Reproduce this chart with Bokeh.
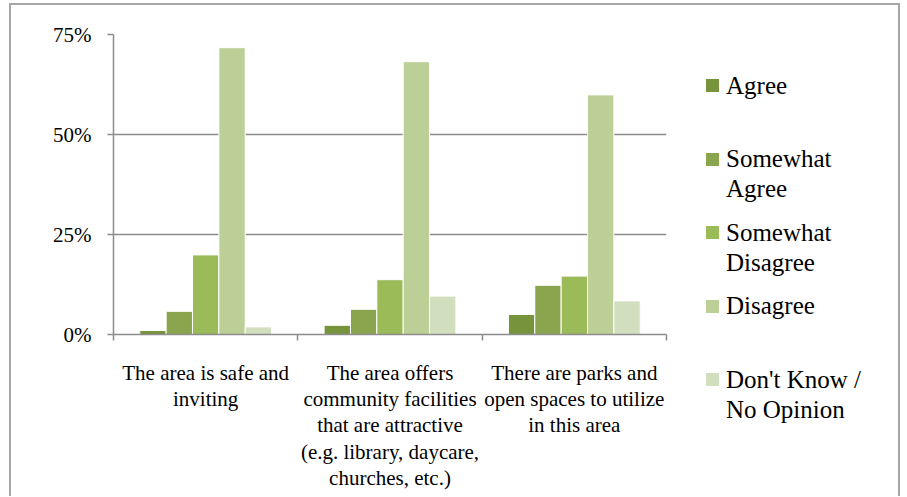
import html
from bokeh.plotting import figure
from bokeh.layouts import row
from bokeh.models import (Range1d, LinearAxis, FixedTicker, Div,
                          PrintfTickFormatter, ColumnDataSource)
from bokeh.transform import dodge
from bokeh.embed import file_html
from bokeh.resources import INLINE

categories = [
    "The area is safe and\ninviting",
    "The area offers\ncommunity facilities\nthat are attractive\n(e.g. library, daycare,\nchurches, etc.)",
    "There are parks and\nopen spaces to utilize\nin this area",
]
series = ["Agree", "Somewhat\nAgree", "Somewhat\nDisagree", "Disagree", "Don't Know /\nNo Opinion"]
agree = [1.0, 2.3, 5.0]
somewhat_agree = [5.8, 6.3, 12.3]
somewhat_disagree = [19.9, 13.7, 14.6]
disagree = [71.7, 68.2, 59.9]
dont_know = [1.9, 9.6, 8.4]
colors = ["#77933c", "#8ba54e", "#9bbb59", "#bbcf97", "#d2dfbf"]
y_ticks = [0, 25, 50, 75]

FONT = "Times New Roman"
GRAY = "#8c8c8c"
BORDER = "2px solid #a6a6a6"

n = len(categories)
centers = [i + 0.5 for i in range(n)]
src = ColumnDataSource(dict(x=centers, a=agree, sa=somewhat_agree, sd=somewhat_disagree,
                            d=disagree, dk=dont_know))

p = figure(x_range=Range1d(0, n), y_range=Range1d(0, 75),
           width=660, height=493, output_backend="svg", toolbar_location=None,
           x_axis_type=None, min_border_left=102, min_border_right=5,
           min_border_top=29, min_border_bottom=164)
p.margin = (3, 0, 0, 9)
p.styles = {"border-top": BORDER, "border-left": BORDER}
p.outline_line_color = None
p.border_fill_color = "white"

w = 0.143
keys = ["a", "sa", "sd", "d", "dk"]
offsets = [-2 * w, -w, 0, w, 2 * w]
for k, off, c in zip(keys, offsets, colors):
    p.vbar(x=dodge("x", off), top=k, width=w, source=src,
           fill_color=c, line_color="white", line_width=1)

yax = p.yaxis[0]
yax.ticker = FixedTicker(ticks=y_ticks, minor_ticks=[])
yax.formatter = PrintfTickFormatter(format="%d%%")
yax.axis_line_color = GRAY
yax.axis_line_width = 1.5
yax.major_tick_line_color = GRAY
yax.major_tick_line_width = 1.5
yax.major_tick_out = 6
yax.major_tick_in = 0
yax.major_label_text_font = FONT
yax.major_label_text_font_size = "21px"
yax.major_label_text_color = "black"
yax.major_label_standoff = 16

p.ygrid.ticker = FixedTicker(ticks=y_ticks)
p.ygrid.grid_line_color = GRAY
p.ygrid.grid_line_width = 1.5
p.xgrid.grid_line_color = None

tick_axis = LinearAxis(ticker=FixedTicker(ticks=list(range(n + 1)), minor_ticks=[]),
                       major_label_text_font_size="0px", major_label_standoff=0,
                       axis_line_color=GRAY, axis_line_width=1.5,
                       major_tick_line_color=GRAY, major_tick_line_width=1.5,
                       major_tick_out=6, major_tick_in=0)
p.add_layout(tick_axis, "below")
cat_axis = LinearAxis(ticker=FixedTicker(ticks=centers, minor_ticks=[]),
                      major_label_overrides={c: lab for c, lab in zip(centers, categories)},
                      axis_line_color=None, major_tick_line_color=None,
                      major_label_text_font=FONT, major_label_text_font_size="21px",
                      major_label_text_line_height=1.1,
                      major_label_text_color="black", major_label_standoff=14)
p.add_layout(cat_axis, "below")

# legend panel (HTML), built from the series names and colours
pitch = 73.5
sq_top = 74.0
txt_top = 65.5
parts = []
for i, (s, c) in enumerate(zip(series, colors)):
    label = "<br>".join(html.escape(t) for t in s.split("\n"))
    parts.append(
        f'<div style="position:absolute;left:37px;top:{sq_top + i * pitch:.1f}px;'
        f'width:13px;height:13px;background:{c};"></div>'
        f'<div style="position:absolute;left:57px;top:{txt_top + i * pitch:.1f}px;'
        f'white-space:nowrap;">{label}</div>'
    )
legend_html = (
    f'<div style="position:relative;width:229px;height:491px;font-family:\'{FONT}\',serif;'
    f'font-size:25px;line-height:30px;color:black;">' + "".join(parts) + "</div>"
)
lg = Div(text=legend_html, width=231, height=493, margin=(3, 0, 0, 0),
         styles={"border-top": BORDER, "border-right": BORDER, "background": "white",
                 "box-sizing": "border-box"})

layout = row(p, lg)
open("out.html", "w").write(file_html(layout, INLINE))
